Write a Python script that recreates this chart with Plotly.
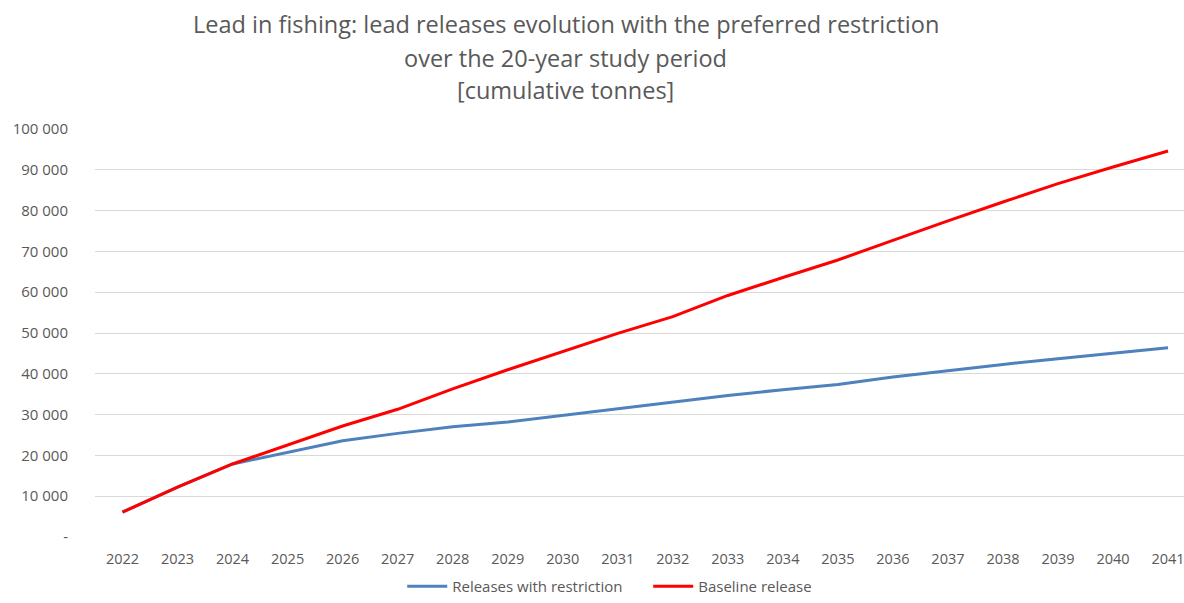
import plotly.graph_objects as go

years = [str(y) for y in range(2022, 2042)]

with_restriction = [6100, 12200, 17900, 20800, 23600, 25400, 27000, 28200, 29800, 31400,
                    33100, 34700, 36100, 37400, 39200, 40800, 42300, 43700, 45000, 46400]
baseline = [6100, 12200, 17900, 22600, 27200, 31300, 36300, 41000, 45400, 49900,
            54000, 59200, 63600, 67900, 72700, 77500, 82100, 86600, 90700, 94600]

y_ticks = [0, 10000, 20000, 30000, 40000, 50000, 60000, 70000, 80000, 90000, 100000]
y_tick_labels = ["-", "10 000", "20 000", "30 000", "40 000", "50 000",
                 "60 000", "70 000", "80 000", "90 000", "100 000"]

title_lines = ["Lead in fishing: lead releases evolution with the preferred restriction",
               "over the 20-year study period",
               "[cumulative tonnes]"]

grey = "#595959"
font = "Open Sans"

fig = go.Figure()
fig.add_trace(go.Scatter(x=years, y=with_restriction, mode="lines", name="Releases with restriction",
                         line=dict(color="#4f81bd", width=3)))
fig.add_trace(go.Scatter(x=years, y=baseline, mode="lines", name="Baseline release",
                         line=dict(color="#ff0000", width=3)))

# title as three separate lines to mimic Excel spacing
for text, yy in zip(title_lines, [1.257, 1.174, 1.096]):
    fig.add_annotation(text=text, xref="paper", yref="paper", x=0.4325, y=yy,
                       xanchor="center", yanchor="middle", showarrow=False,
                       font=dict(family=font, size=23.5, color=grey))

fig.update_layout(
    width=1184, height=603,
    margin=dict(l=95, r=0, t=129, b=66),
    paper_bgcolor="white", plot_bgcolor="white",
    font=dict(family=font, color=grey, size=13),
    xaxis=dict(type="category", range=[-0.5, 19.29], showgrid=False, showline=False,
               automargin=False, ticks="", tickfont=dict(size=14.5, color=grey),
               ticklabelstandoff=11),
    yaxis=dict(range=[0, 100000], tickvals=y_ticks, ticktext=y_tick_labels,
               showgrid=True, gridcolor="#d9d9d9", gridwidth=1, zeroline=False,
               automargin=False, showline=False, ticks="", tickfont=dict(size=15, color=grey),
               ticklabelstandoff=26),
    legend=dict(orientation="h", x=0.508, xanchor="center", yref="container",
                y=0, yanchor="bottom", font=dict(size=15, color=grey), itemwidth=40,
                entrywidth=191),
)

# drop the default page margin so the figure fills the window exactly
fig.write_html("out.html", config={"displayModeBar": False},
               post_script="document.body.style.margin='0';document.body.style.overflow='hidden';")
